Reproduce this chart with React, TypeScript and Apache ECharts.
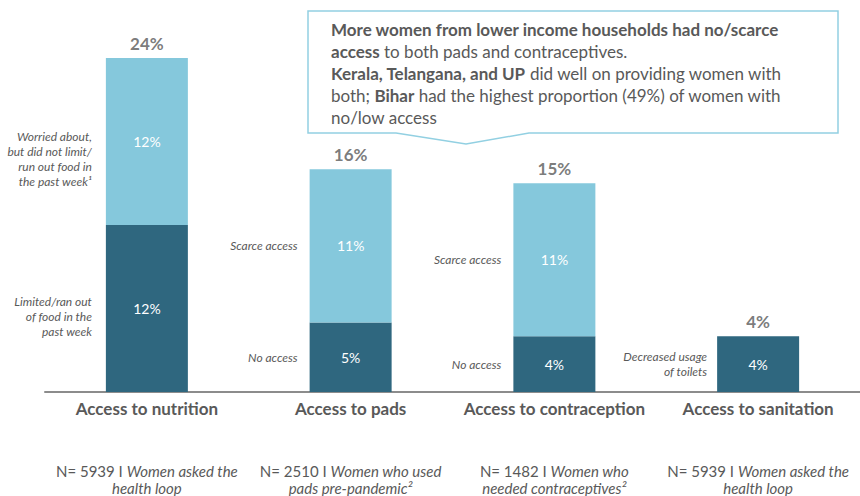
import React, { useEffect, useRef } from "react";
import * as echarts from "echarts";

const categories = ["Access to nutrition", "Access to pads", "Access to contraception", "Access to sanitation"];
const noAccessValues = [12, 5, 4, 4];
const scarceValues = [12, 11, 11, 0];
const totalValues = [24, 16, 15, 4];
const noAccessLabels = ["Limited/ran out\nof food in the\npast week", "No access", "No access", "Decreased usage\nof toilets"];
const scarceLabels = ["Worried about,\nbut did not limit/\nrun out food in\nthe past week¹", "Scarce access", "Scarce access", ""];
const sampleSizes = ["N= 5939 I ", "N= 2510 I ", "N= 1482 I ", "N= 5939 I "];
const sampleLine1 = ["Women asked the", "Women who used", "Women who", "Women asked the"];
const sampleLine2 = ["health loop", "pads pre-pandemic²", "needed contraceptives²", "health loop"];

const LIGHT = "#85C8DC";
const DARK = "#2F677F";
const TEXT = "#595959";
const FONT = "Lato, 'Open Sans', sans-serif";

export default function App() {
  const ref = useRef<HTMLDivElement>(null);
  useEffect(() => {
    const chart = echarts.init(ref.current!, null, { renderer: "svg" });
    const descLabel = (texts: string[]) => ({
      show: true,
      position: "left",
      distance: 12,
      align: "right",
      fontFamily: FONT,
      fontStyle: "italic",
      fontSize: 12,
      lineHeight: 15,
      color: TEXT,
      formatter: (p: any) => texts[p.dataIndex],
    });
    const descData = (vals: number[], offsets: number[][]) =>
      vals.map((v, i) => ({ value: v, label: { offset: offsets[i] } }));
    const valueLabel = {
      show: true,
      position: "inside",
      color: "#ffffff",
      fontFamily: FONT,
      fontSize: 14,
      formatter: (p: any) => (p.value ? p.value + "%" : ""),
    };
    const option: any = {
      animation: false,
      grid: { left: 45, top: 58, bottom: 96, width: 824 },
      xAxis: [
        {
          type: "category",
          data: categories,
          position: "bottom",
          axisLine: { show: true, lineStyle: { color: "#8C8C8C", width: 2 } },
          axisTick: { show: false },
          axisLabel: {
            interval: 0,
            margin: 8,
            color: TEXT,
            fontFamily: FONT,
            fontWeight: "bold",
            fontSize: 17,
          },
        },
        {
          type: "category",
          data: categories,
          position: "bottom",
          axisLine: { show: false },
          axisTick: { show: false },
          axisLabel: {
            interval: 0,
            margin: 70,
            color: TEXT,
            fontFamily: FONT,
            fontSize: 15,
            lineHeight: 17,
            formatter: (_v: string, i: number) =>
              "{n|" + sampleSizes[i] + "}{i|" + sampleLine1[i] + "}\n{i|" + sampleLine2[i] + "}",
            rich: {
              n: { fontFamily: FONT, fontSize: 15, color: TEXT, lineHeight: 17 },
              i: { fontFamily: FONT, fontSize: 15, fontStyle: "italic", color: TEXT, lineHeight: 17 },
            },
          },
        },
      ],
      yAxis: { type: "value", min: 0, max: 24, show: false, splitLine: { show: false } },
      series: [
        {
          type: "bar",
          stack: "a",
          barWidth: 82,
          barGap: "-100%",
          data: noAccessValues,
          itemStyle: { color: DARK },
          label: valueLabel,
        },
        {
          type: "bar",
          stack: "a",
          barWidth: 82,
          barGap: "-100%",
          data: scarceValues,
          itemStyle: { color: LIGHT },
          label: valueLabel,
        },
        {
          type: "bar",
          stack: "b",
          barWidth: 82,
          barGap: "-100%",
          data: descData(noAccessValues, [[-2, 8], [0, 0], [0, 0], [2, 0]]),
          itemStyle: { color: "rgba(0,0,0,0)" },
          label: descLabel(noAccessLabels),
          silent: true,
        },
        {
          type: "bar",
          stack: "b",
          barWidth: 82,
          barGap: "-100%",
          data: descData(scarceValues, [[-2, 17], [0, 0], [0, 0], [0, 0]]),
          itemStyle: { color: "rgba(0,0,0,0)" },
          label: descLabel(scarceLabels),
          silent: true,
        },
        {
          type: "scatter",
          data: totalValues,
          symbolSize: 0,
          itemStyle: { color: "rgba(0,0,0,0)" },
          label: {
            show: true,
            position: "top",
            distance: 6,
            color: TEXT,
            fontFamily: FONT,
            fontWeight: "bold",
            fontSize: 17,
            formatter: (p: any) => p.value + "%",
          },
        },
      ],
      graphic: [
        {
          type: "polygon",
          shape: {
            points: [
              [308, 11],
              [838, 11],
              [838, 133],
              [529, 133],
              [466, 144],
              [396, 133],
              [308, 133],
            ],
          },
          style: { fill: "#ffffff", stroke: "#92D0E2", lineWidth: 1.5 },
          z: 10,
        },
        {
          type: "text",
          x: 331,
          y: 18,
          z: 11,
          style: {
            text:
              "{b|More women from lower income households had no/scarce}\n" +
              "{b|access} to both pads and contraceptives.\n" +
              "{b|Kerala, Telangana, and UP} did well on providing women with\n" +
              "both; {b|Bihar} had the highest proportion (49%) of women with\n" +
              "no/low access",
            fill: TEXT,
            fontFamily: FONT,
            fontSize: 17,
            lineHeight: 22,
            rich: {
              b: { fontFamily: FONT, fontWeight: "bold", fontSize: 17, lineHeight: 22, fill: TEXT },
            },
          },
        },
      ],
    };
    chart.setOption(option);
    return () => chart.dispose();
  }, []);
  return (
    <div
      ref={ref}
      style={{ position: "absolute", left: 0, top: 0, width: 860, height: 496, background: "#ffffff" }}
    />
  );
}
